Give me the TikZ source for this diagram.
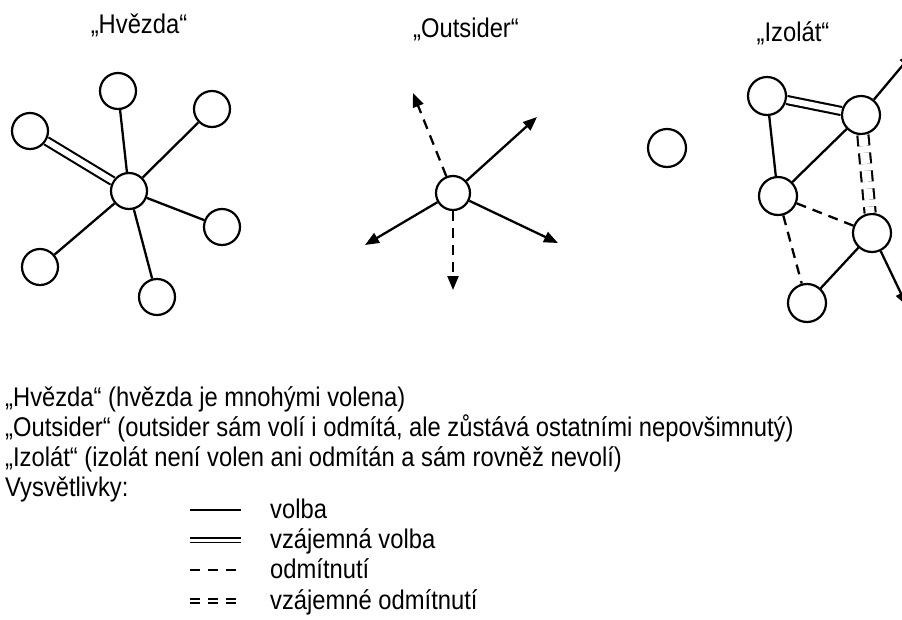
\documentclass[tikz,border=0pt]{standalone}
\usepackage{fontspec}
\setmainfont[FakeStretch=0.88]{Liberation Sans}
\usetikzlibrary{arrows.meta}

\begin{document}
\begin{tikzpicture}[x=1pt,y=-1pt,
  person/.style={circle,draw,line width=2.2pt,minimum size=36pt,inner sep=0pt,fill=white},
  vol/.style={line width=2.3pt},
  mutvol/.style={line width=2.1pt,double,double distance=6pt},
  odm/.style={line width=2.3pt,dash pattern=on 10pt off 7pt},
  mutodm/.style={line width=2.1pt,double,double distance=9pt,dash pattern=on 11pt off 7pt},
  tip/.style={-{Triangle[length=14pt,width=11pt]}},
  txt/.style={font=\fontsize{27}{30}\selectfont,inner sep=0pt}]
   \clip (0,0) rectangle (902,619);
   % Titles
   \node[txt,anchor=base] (t1) at (139,33) {„Hvězda“};
   \node[txt,anchor=base] (t2) at (466,37) {„Outsider“};
   \node[txt,anchor=base] (t3) at (793,41) {„Izolát“};
   % Star
   \node[person] (hc) at (129,191) {};
   \node[person] (h1) at (118,91) {};
   \node[person] (h2) at (212,109) {};
   \node[person] (h3) at (30,131) {};
   \node[person] (h4) at (222,227) {};
   \node[person] (h5) at (40,267) {};
   \node[person] (h6) at (157,297) {};
   \draw[vol] (h1) -- (hc);
   \draw[vol] (h2) -- (hc);
   \draw[mutvol] (h3) -- (hc);
   \draw[vol] (h4) -- (hc);
   \draw[vol] (h5) -- (hc);
   \draw[vol] (h6) -- (hc);
   % Outsider
   \node[person,minimum size=34pt] (oc) at (453,193) {};
   \coordinate (o1) at (413,93);
   \coordinate (o2) at (537,117);
   \coordinate (o3) at (365,245);
   \coordinate (o4) at (558,243);
   \coordinate (o5) at (453,290);
   \draw[odm,tip] (oc) -- (o1);
   \draw[vol,tip] (oc) -- (o2);
   \draw[vol,tip] (oc) -- (o3);
   \draw[vol,tip] (oc) -- (o4);
   \draw[odm,tip] (oc) -- (o5);
   % Isolate
   \node[person,minimum size=38pt] (iz) at (667,148) {};
   \node[person,minimum size=38pt] (ia) at (767,96) {};
   \node[person,minimum size=38pt] (ib) at (861,115) {};
   \node[person,minimum size=38pt] (ic) at (778,196) {};
   \node[person,minimum size=38pt] (id) at (872,233) {};
   \node[person,minimum size=38pt] (ie) at (807,303) {};
   \coordinate (ib1) at (913,53);
   \coordinate (id1) at (907,306);
   \draw[mutvol] (ia) -- (ib);
   \draw[vol] (ia) -- (ic);
   \draw[vol] (ib) -- (ic);
   \draw[mutodm] (ib) -- (id);
   \draw[odm] (ic) -- (id);
   \draw[odm] (ic) -- (ie);
   \draw[vol] (id) -- (ie);
   \draw[vol,tip] (ib) -- (ib1);
   \draw[vol,tip] (id) -- (id1);
   % Description
   \node[txt,anchor=base west] (d1) at (5,406) {„Hvězda“ (hvězda je mnohými volena)};
   \node[txt,anchor=base west] (d2) at (5,436) {„Outsider“ (outsider sám volí i odmítá, ale zůstává ostatními nepovšimnutý)};
   \node[txt,anchor=base west] (d3) at (5,466) {„Izolát“ (izolát není volen ani odmítán a sám rovněž nevolí)};
   \node[txt,anchor=base west] (d4) at (5,496) {Vysvětlivky:};
   % Legend
   \coordinate (l1a) at (190,510); \coordinate (l1b) at (241,510);
   \coordinate (l2a) at (190,540); \coordinate (l2b) at (241,540);
   \coordinate (l3a) at (190,570); \coordinate (l3b) at (241,570);
   \coordinate (l4a) at (190,601); \coordinate (l4b) at (241,601);
   \draw[vol] (l1a) -- (l1b);
   \draw[line width=1.8pt,double,double distance=3pt] (l2a) -- (l2b);
   \draw[line width=2pt,dash pattern=on 10pt off 8pt] (l3a) -- (l3b);
   \draw[line width=1.6pt,double,double distance=2.5pt,dash pattern=on 10pt off 8pt] (l4a) -- (l4b);
   \node[txt,anchor=base west] (k1) at (270,518) {volba};
   \node[txt,anchor=base west] (k2) at (270,548) {vzájemná volba};
   \node[txt,anchor=base west] (k3) at (270,578) {odmítnutí};
   \node[txt,anchor=base west] (k4) at (270,609) {vzájemné odmítnutí};
\end{tikzpicture}
\end{document}
